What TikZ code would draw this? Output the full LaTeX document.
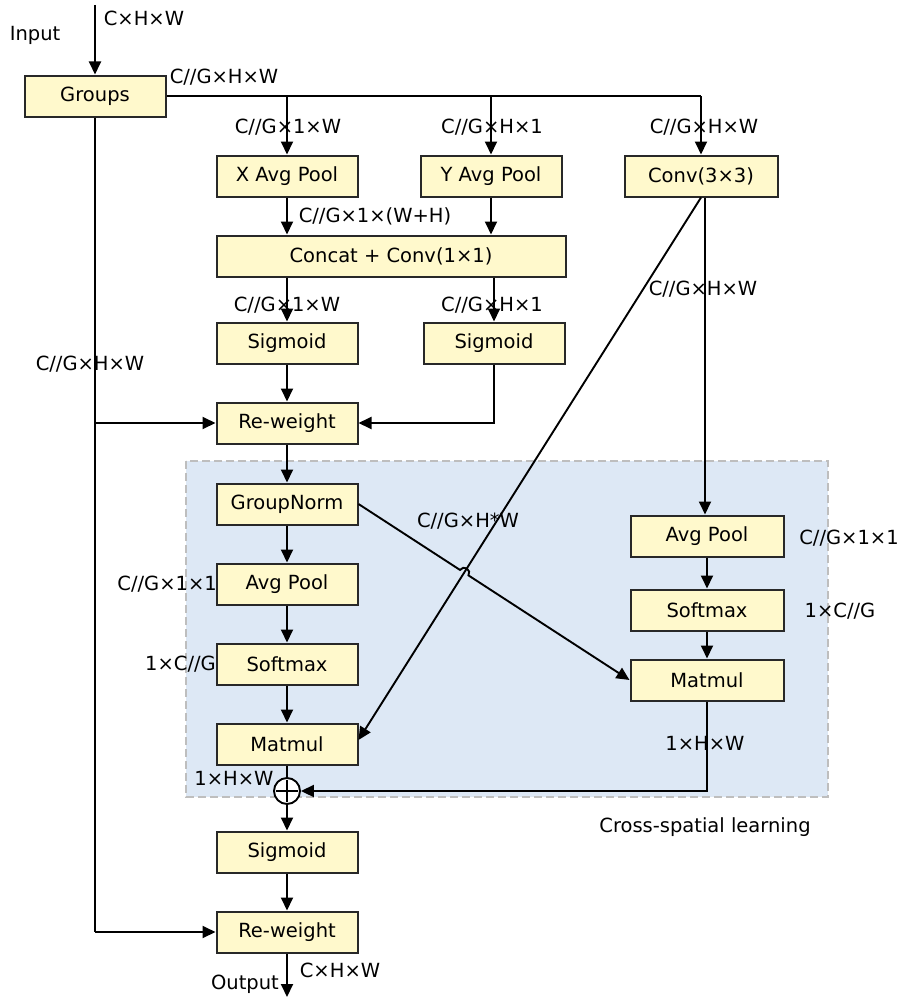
\documentclass[tikz,border=0pt]{standalone}
\usepackage{fontspec}
\setmainfont{DejaVu Sans}
\usetikzlibrary{arrows.meta,calc}
\definecolor{boxfill}{RGB}{255,249,204}
\definecolor{regionfill}{RGB}{221,232,245}
\definecolor{regionline}{RGB}{190,190,190}
\definecolor{boxline}{RGB}{40,40,40}
\begin{document}
\begin{tikzpicture}[x=1pt,y=-1pt, font=\fontsize{19.5}{23}\selectfont,
  box/.style={draw=boxline, fill=boxfill, line width=2pt, minimum width=141pt, minimum height=41pt, inner sep=0pt},
  arr/.style={line width=1.9pt, -{Triangle[length=13pt,width=12pt]}},
  ln/.style={line width=1.9pt},
  lbl/.style={inner sep=0pt}]
\useasboundingbox (0,0) rectangle (909,998);
\fill[white] (0,0) rectangle (909,998);
% region
\draw[regionline, fill=regionfill, line width=1.8pt, dash pattern=on 8pt off 4pt] (186,461) rectangle (828,797);
% nodes
\node[box] (groups) at (95,96) {Groups};
\node[box] (xap) at (287,176) {X Avg Pool};
\node[box] (yap) at (491,176) {Y Avg Pool};
\node[box, minimum width=153pt] (conv) at (701,176) {Conv(3×3)};
\node[box, minimum width=349pt] (cat) at (391,256) {Concat + Conv(1×1)};
\node[box] (sigL) at (287,343) {Sigmoid};
\node[box] (sigR) at (494,343) {Sigmoid};
\node[box] (rw1) at (287,423) {Re-weight};
\node[box] (gn) at (287,504) {GroupNorm};
\node[box] (apL) at (287,584) {Avg Pool};
\node[box] (smL) at (287,664) {Softmax};
\node[box] (mmL) at (287,744) {Matmul};
\node[circle, draw, fill=white, minimum size=26pt, inner sep=0pt, line width=1.9pt] (plus) at (287,791) {};
\node[box] (sig2) at (287,852) {Sigmoid};
\node[box] (rw2) at (287,932) {Re-weight};
\node[box, minimum width=153pt] (apR) at (707,536) {Avg Pool};
\node[box, minimum width=153pt] (smR) at (707,610) {Softmax};
\node[box, minimum width=153pt] (mmR) at (707,680) {Matmul};
% plus sign
\draw[ln] ($(plus.center)+(0,-11)$) -- ($(plus.center)+(0,11)$);
\draw[ln] ($(plus.center)+(-11,0)$) -- ($(plus.center)+(11,0)$);
% coordinates
\coordinate (in) at (95,5);
\coordinate (out) at (287,997);
\coordinate (trunkBot) at (groups.south |- rw2.west);
\coordinate (convV) at ($(conv.south)+(4,0)$);
\coordinate (diagEnd) at ($(mmL.east)+(0,-4)$);
% connectors
\draw[arr] (in) -- (groups);
\draw[ln] (groups.east) -- (groups.east -| conv.north);
\draw[arr] (groups.east -| xap.north) -- (xap.north);
\draw[arr] (groups.east -| yap.north) -- (yap.north);
\draw[arr] (groups.east -| conv.north) -- (conv.north);
\draw[arr] (xap.south) -- (xap.south |- cat.north);
\draw[arr] (yap.south) -- (yap.south |- cat.north);
\draw[arr] (cat.south -| sigL.north) -- (sigL.north);
\draw[arr] (cat.south -| sigR.north) -- (sigR.north);
\draw[arr] (sigL) -- (rw1);
\draw[arr] (sigR.south) |- (rw1.east);
\draw[ln] (groups.south) -- (trunkBot);
\draw[arr] (groups.south |- rw1.west) -- (rw1.west);
\draw[arr] (trunkBot) -- (rw2.west);
\draw[arr] (rw1) -- (gn);
\draw[arr] (gn) -- (apL);
\draw[arr] (apL) -- (smL);
\draw[arr] (smL) -- (mmL);
\draw[ln] (mmL) -- (plus);
\draw[arr] (plus) -- (sig2);
\draw[arr] (sig2) -- (rw2);
\draw[arr] (rw2.south) -- (out);
\draw[arr] (convV) -- (convV |- apR.north);
\draw[arr] (apR) -- (smR);
\draw[arr] (smR) -- (mmR);
\draw[arr] (mmR.south) |- (plus.east);
\draw[arr] (conv.south) -- (diagEnd);
\coordinate (hop) at (intersection of gn.east--mmR.west and conv.south--diagEnd);
\draw[arr] (gn.east) -- ($(hop)!5pt!(gn.east)$) arc[start angle=147.2, end angle=-32.8, radius=5pt] -- (mmR.west);
% labels
\node[lbl] (tIn) at (35,35) {Input};
\node[lbl] (tIn2) at (144,18) {C×H×W};
\node[lbl] (tG) at (224,77) {C//G×H×W};
\node[lbl] (tX) at (288,127) {C//G×1×W};
\node[lbl] (tY) at (492,127) {C//G×H×1};
\node[lbl] (tC) at (704,127) {C//G×H×W};
\node[lbl] (tCat) at (375,216) {C//G×1×(W+H)};
\node[lbl] (tSL) at (287,305) {C//G×1×W};
\node[lbl] (tSR) at (492,305) {C//G×H×1};
\node[lbl] (tTrunk) at (90,364) {C//G×H×W};
\node[lbl] (tConvV) at (703,289) {C//G×H×W};
\node[lbl] (tHW) at (468,521) {C//G×H*W};
\node[lbl, anchor=east] (tApL) at (217,584) {C//G×1×1};
\node[lbl, anchor=east] (tSmL) at (216,664) {1×C//G};
\node[lbl] (tMmL) at (234,778) {1×H×W};
\node[lbl] (tApR) at (849,538) {C//G×1×1};
\node[lbl] (tSmR) at (840,611) {1×C//G};
\node[lbl] (tMmR) at (705,743) {1×H×W};
\node[lbl] (tCross) at (705,827) {Cross-spatial learning};
\node[lbl] (tOut) at (245,984) {Output};
\node[lbl] (tOut2) at (340,970) {C×H×W};
\end{tikzpicture}
\end{document}
